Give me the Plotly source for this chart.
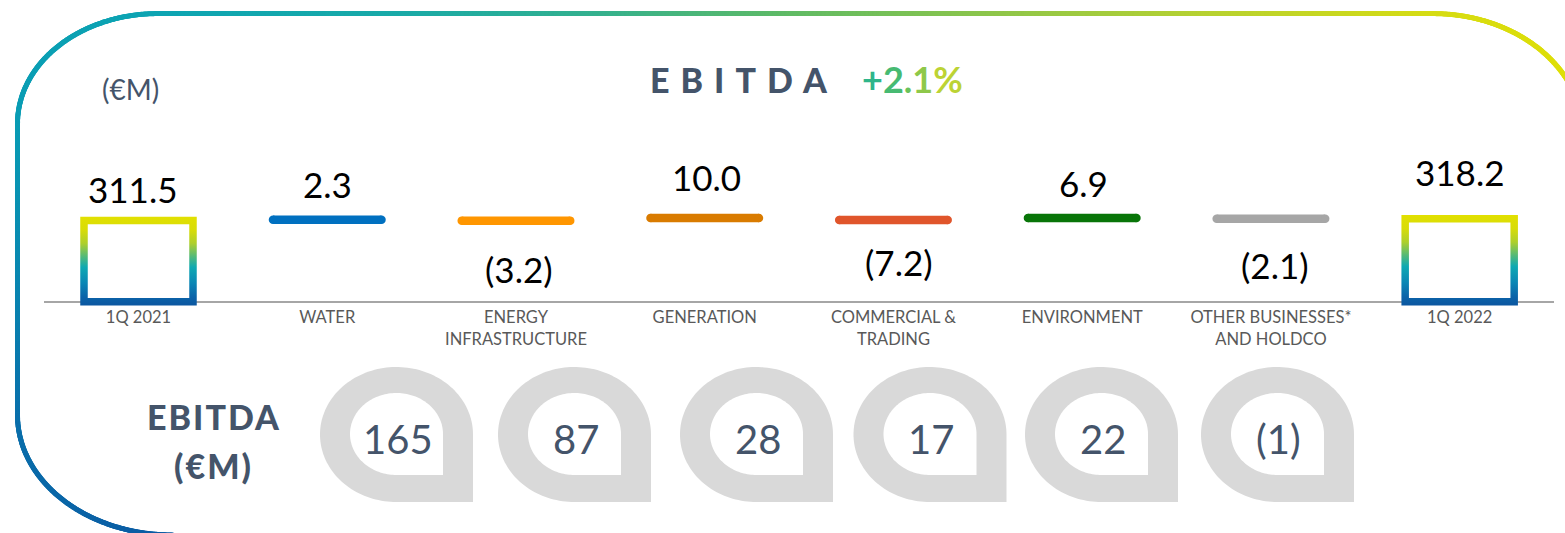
import numpy as np
import plotly.graph_objects as go

# ---------------- data ----------------
categories = ["1Q 2021", "WATER", "ENERGY<br>INFRASTRUCTURE", "GENERATION",
              "COMMERCIAL &<br>TRADING", "ENVIRONMENT",
              "OTHER BUSINESSES*<br>AND HOLDCO", "1Q 2022"]
start_total = 311.5
deltas = [2.3, -3.2, 10.0, -7.2, 6.9, -2.1]
end_total = 318.2
delta_colors = ["#0070c0", "#ff9600", "#d97b00", "#e0552b", "#087508", "#a6a6a6"]

segment_ebitda = [165, 87, 28, 17, 22, -1]
growth_pct = 2.1

# ---------------- geometry / style ----------------
W, H = 1565, 533
SPACING = 188.74          # px between category centres
FIRST_PX = 138.5          # px centre of first category
BASE_PX = 301.7           # px of the zero line
PX_PER = 0.261            # px per EUR M
YMIN, YMAX = -16, 560
FONT = "Lato"
SLATE = "#44546a"

x_left = FIRST_PX - 0.5 * SPACING
x_dom = [x_left / W, (x_left + 8 * SPACING) / W]
y_dom = [1 - (BASE_PX - YMIN * PX_PER) / H, 1 - (BASE_PX - YMAX * PX_PER) / H]

LABEL_YSHIFT = [31, 36, -48, 41, -42, 35, -46, 47]
LABEL_XSHIFT = [-6, 0, 3, 2, 6, 1, 4, 0]

BOX_SCALE = [[0.0, "#0b56a0"], [0.1, "#0b64a9"], [0.25, "#0a86b5"],
             [0.43, "#0fa9b2"], [0.55, "#52b97a"], [0.7, "#aecf2c"],
             [0.85, "#d8dc08"], [1.0, "#e2e000"]]

BORDER_SCALE = [[0.0, "#0b5aa3"], [0.099, "#0a70ab"], [0.165, "#0a88b1"],
                [0.232, "#0a9cb4"], [0.321, "#0ea5b3"], [0.432, "#1aaaa8"],
                [0.523, "#35b18e"], [0.614, "#62bb64"], [0.705, "#8fc64a"],
                [0.797, "#b6d132"], [0.903, "#d6dc14"], [1.0, "#e2e000"]]


def fmt(v):
    return f"({abs(v):.1f})" if v < 0 else f"{v:.1f}"


def fmt_int(v):
    return f"({abs(v)})" if v < 0 else f"{v}"


def arc(cx, cy, rx, ry, a0, a1, n=200):
    t = np.radians(np.linspace(a0, a1, n))
    return cx + rx * np.cos(t), cy + ry * np.sin(t)


fig = go.Figure()

# ---- total boxes (gradient outline) ----
hw = 54.5 / SPACING
sx = 3.75 / SPACING
sy = 3.75 / PX_PER


def ring(xc, top):
    ox0, ox1, oy0, oy1 = xc - hw - sx, xc + hw + sx, -sy, top + sy
    ix0, ix1, iy0, iy1 = xc - hw + sx, xc + hw - sx, sy, top - sy
    xs = [ox0, ox1, ox1, ox0, ox0, ix0, ix0, ix1, ix1, ix0, ox0]
    ys = [oy0, oy0, oy1, oy1, oy0, iy0, iy1, iy1, iy0, iy0, oy0]
    return xs, ys, oy0, oy1


for xc, tot in [(0, start_total), (7, end_total)]:
    xs, ys, g0, g1 = ring(xc, tot)
    fig.add_trace(go.Scatter(
        x=xs, y=ys, mode="lines", fill="toself", line=dict(width=0),
        fillgradient=dict(type="vertical", colorscale=BOX_SCALE, start=g0, stop=g1),
        hoverinfo="skip", showlegend=False))

# ---- delta markers (running total after each step) ----
running = start_total
totals_after = []
for d in deltas:
    running = round(running + d, 1)
    totals_after.append(running)

hl = 54.25 / SPACING
for i, (d, tot, col) in enumerate(zip(deltas, totals_after, delta_colors)):
    xc = i + 1
    fig.add_trace(go.Scatter(
        x=[xc - hl, xc + hl], y=[tot, tot], mode="lines+markers",
        line=dict(color=col, width=8.5), marker=dict(size=8.5, color=col),
        hoverinfo="skip", showlegend=False))

# ---- value labels ----
label_pos = [start_total] + totals_after + [end_total]
label_txt = [fmt(start_total)] + [fmt(d) for d in deltas] + [fmt(end_total)]
annotations = []
for i, (yv, txt) in enumerate(zip(label_pos, label_txt)):
    annotations.append(dict(
        x=i, y=yv, xref="x", yref="y", text=txt, showarrow=False,
        xanchor="center", yanchor="middle",
        xshift=LABEL_XSHIFT[i], yshift=LABEL_YSHIFT[i],
        font=dict(family=FONT, size=35, color="#000000")))

# ---- rounded frame with diagonal gradient ----
pieces = []
pieces.append(arc(172.5, 415, 155, 120, 90, 180))
pieces.append((np.array([17.5, 17.5]), np.array([415, 123.6])))
pieces.append(arc(157.5, 123.6, 140, 110, 180, 270))
pieces.append((np.array([157.5, 1433]), np.array([13.6, 13.6])))
pieces.append(arc(1433, 133.6, 150, 120, 270, 360))
px = np.concatenate([p[0] for p in pieces])
py = np.concatenate([p[1] for p in pieces])
seg = np.hypot(np.diff(px), np.diff(py))
cum = np.concatenate([[0], np.cumsum(seg)])
samp = np.arange(0, cum[-1], 0.8)
bx = np.interp(samp, cum, px)
by = np.interp(samp, cum, py)
fig.add_trace(go.Scatter(
    x=bx, y=by, xaxis="x2", yaxis="y2", mode="markers",
    marker=dict(size=5, color=samp / cum[-1], colorscale=BORDER_SCALE,
                cmin=0, cmax=1, line=dict(width=0)),
    hoverinfo="skip", showlegend=False))

# ---- segment EBITDA badges ----
badge_cx = [396.5, 574.5, 756.5, 930.0, 1101.5, 1277.5]
shapes = []


def badge_path(cx, cy, rx, ry):
    ax, ay = arc(cx, cy, rx, ry, 90, 360, 120)
    pts = " ".join(f"L {x:.2f},{y:.2f}" for x, y in zip(ax, ay))
    return f"M {cx + rx:.2f},{cy + ry:.2f} {pts} Z"


for cx in badge_cx:
    shapes.append(dict(type="path", xref="x2", yref="y2",
                       path=badge_path(cx, 434.5, 76.5, 67.5),
                       fillcolor="#d9d9d9", line=dict(width=0), layer="below"))
    shapes.append(dict(type="path", xref="x2", yref="y2",
                       path=badge_path(cx, 434.0, 46.5, 41.0),
                       fillcolor="#ffffff", line=dict(width=0), layer="below"))

for cx, v in zip(badge_cx, segment_ebitda):
    annotations.append(dict(
        x=cx + 1, y=439, xref="x2", yref="y2", text=fmt_int(v), showarrow=False,
        xanchor="center", yanchor="middle",
        font=dict(family=FONT, size=40, color=SLATE)))

# ---- titles ----
annotations.append(dict(
    x=130, y=89, xref="x2", yref="y2", text="(€M)", showarrow=False,
    xanchor="center", yanchor="middle",
    font=dict(family=FONT, size=28, color=SLATE)))
annotations.append(dict(
    x=648, y=79, xref="x2", yref="y2",
    text='<span style="letter-spacing:11px">EBITDA</span>',
    showarrow=False, xanchor="left", yanchor="middle",
    font=dict(family=FONT, size=34, color=SLATE, weight=900)))
growth_txt = f"+{growth_pct:.1f}%"
growth_cols = ["#2fb58a", "#47ba72", "#6ac25a", "#8ec84a", "#bcd334"]
growth_html = "".join(f'<span style="color:{c}">{ch}</span>'
                      for ch, c in zip(growth_txt, growth_cols))
annotations.append(dict(
    x=860, y=79, xref="x2", yref="y2", text=f"<b>{growth_html}</b>",
    showarrow=False, xanchor="left", yanchor="middle",
    font=dict(family=FONT, size=36, color="#47ba72")))
annotations.append(dict(
    x=214, y=416.5, xref="x2", yref="y2",
    text='<span style="letter-spacing:2px">EBITDA</span>',
    showarrow=False, xanchor="center", yanchor="middle",
    font=dict(family=FONT, size=34, color=SLATE, weight=900)))
annotations.append(dict(
    x=213, y=465, xref="x2", yref="y2",
    text='<span style="letter-spacing:2px">(€M)</span>',
    showarrow=False, xanchor="center", yanchor="middle",
    font=dict(family=FONT, size=34, color=SLATE, weight=900)))

fig.update_layout(
    width=W, height=H, margin=dict(l=0, r=0, t=0, b=0),
    paper_bgcolor="#ffffff", plot_bgcolor="rgba(0,0,0,0)",
    showlegend=False, shapes=shapes, annotations=annotations,
    xaxis=dict(domain=x_dom, range=[-0.5, 7.5], tickvals=list(range(8)),
               ticktext=categories, showgrid=False, zeroline=False,
               showline=False, ticks="", fixedrange=True,
               tickfont=dict(family=FONT, size=16.5, color="#595959")),
    yaxis=dict(domain=y_dom, range=[YMIN, YMAX], showgrid=False,
               showticklabels=False, zeroline=True, zerolinecolor="#a6a6a6",
               zerolinewidth=1.5, fixedrange=True),
    xaxis2=dict(domain=[0, 1], range=[0, W], anchor="y2", visible=False,
                fixedrange=True),
    yaxis2=dict(domain=[0, 1], range=[H, 0], anchor="x2", visible=False,
                fixedrange=True),
)

fig.write_html("out.html")
